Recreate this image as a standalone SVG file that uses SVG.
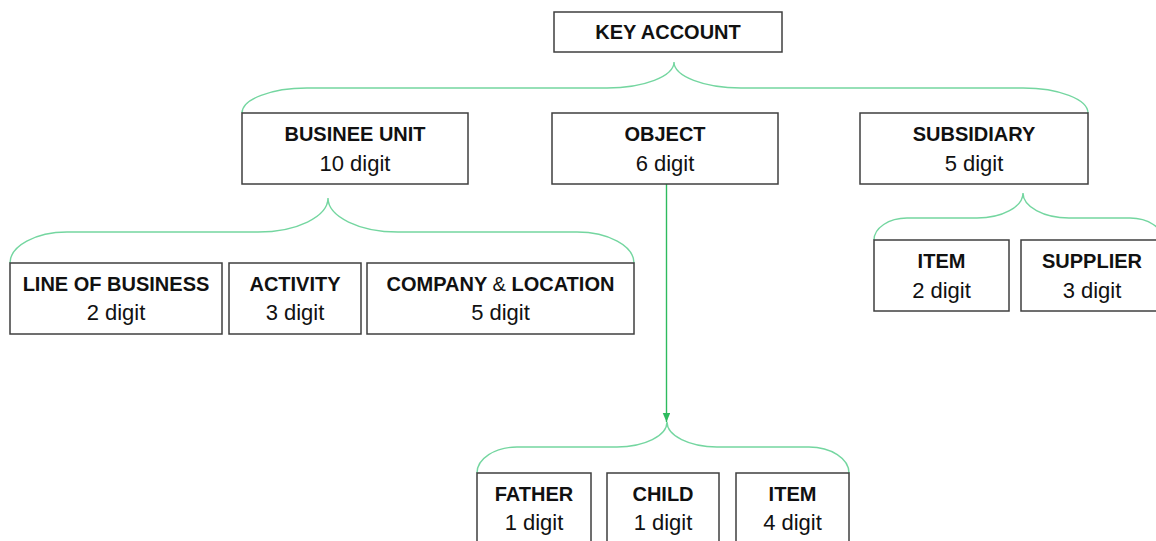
<svg xmlns="http://www.w3.org/2000/svg" width="1156" height="541" viewBox="0 0 1156 541">
  <style>
    .box { fill: #ffffff; stroke: #3f3f3f; stroke-width: 1.5; }
    .title { font-family: "Liberation Sans", Arial, sans-serif; font-weight: bold; font-size: 20px; fill: #111111; text-anchor: middle; }
    .digit { font-family: "Liberation Sans", Arial, sans-serif; font-size: 22px; fill: #111111; text-anchor: middle; }
    .brace { fill: none; stroke: #74d6a0; stroke-width: 1.4; }
    .arrow { fill: none; stroke: #2dbb5e; stroke-width: 1.4; }
  </style>
  <defs>
    <marker id="arrowhead" markerUnits="userSpaceOnUse" markerWidth="9" markerHeight="8" refX="9" refY="3.75" orient="auto">
      <path d="M0,0 L9,3.75 L0,7.5 z" fill="#2dbb5e"/>
    </marker>
  </defs>

  <!-- connectors: curly braces grouping children, plus the object arrow -->
  <g id="connectors">
    <path class="brace" d="M242,113 C242,99.25 271.25,88 307,88 L607,88 C643.85,88 674,76.3 674,62 C674,76.3 704.15,88 741,88 L1023,88 C1058.75,88 1088,99.25 1088,113"/>
    <path class="brace" d="M10,263 C10,245.95 35.65,232 67,232 L258,232 C296.5,232 328,216.7 328,198 C328,216.7 359.5,232 398,232 L577,232 C608.35,232 634,245.95 634,263"/>
    <path class="brace" d="M874,240 C874,227.9 888.85,218 907,218 L977,218 C1002.3,218 1023,206.75 1023,193 C1023,206.75 1043.7,218 1069,218 L1130,218 C1148.15,218 1163,227.9 1163,240"/>
    <path class="brace" d="M477,473 C477,458.7 494.9,447 517,447 L617,447 C644.5,447 667,435.75 667,422 C667,435.75 689.5,447 717,447 L809,447 C831.1,447 849,458.7 849,473"/>
    <line class="arrow" x1="666.5" y1="184" x2="666.5" y2="422" marker-end="url(#arrowhead)"/>
  </g>

  <g id="key-account">
    <rect class="box" x="554" y="12" width="228" height="40"/>
    <text class="title" x="668" y="39">KEY ACCOUNT</text>
  </g>

  <g id="business-unit">
    <rect class="box" x="242" y="113" width="226" height="71"/>
    <text class="title" x="355" y="141">BUSINEE UNIT</text>
    <text class="digit" x="355" y="171">10 digit</text>
  </g>

  <g id="object">
    <rect class="box" x="552" y="113" width="226" height="71"/>
    <text class="title" x="665" y="141">OBJECT</text>
    <text class="digit" x="665" y="171">6 digit</text>
  </g>

  <g id="subsidiary">
    <rect class="box" x="860" y="113" width="228" height="71"/>
    <text class="title" x="974" y="141">SUBSIDIARY</text>
    <text class="digit" x="974" y="171">5 digit</text>
  </g>

  <g id="line-of-business">
    <rect class="box" x="10" y="263" width="212" height="71"/>
    <text class="title" x="116" y="291">LINE OF BUSINESS</text>
    <text class="digit" x="116" y="320">2 digit</text>
  </g>

  <g id="activity">
    <rect class="box" x="229" y="263" width="132" height="71"/>
    <text class="title" x="295" y="291">ACTIVITY</text>
    <text class="digit" x="295" y="320">3 digit</text>
  </g>

  <g id="company-location">
    <rect class="box" x="367" y="263" width="267" height="71"/>
    <text class="title" x="500.5" y="291">COMPANY <tspan font-weight="normal">&amp;</tspan> LOCATION</text>
    <text class="digit" x="500.5" y="320">5 digit</text>
  </g>

  <g id="subsidiary-item">
    <rect class="box" x="874" y="240" width="135" height="71"/>
    <text class="title" x="941.5" y="268">ITEM</text>
    <text class="digit" x="941.5" y="298">2 digit</text>
  </g>

  <g id="supplier">
    <rect class="box" x="1021" y="240" width="142" height="71"/>
    <text class="title" x="1092" y="268">SUPPLIER</text>
    <text class="digit" x="1092" y="298">3 digit</text>
  </g>

  <g id="father">
    <rect class="box" x="477" y="473" width="114" height="71"/>
    <text class="title" x="534" y="501">FATHER</text>
    <text class="digit" x="534" y="530">1 digit</text>
  </g>

  <g id="child">
    <rect class="box" x="607" y="473" width="112" height="71"/>
    <text class="title" x="663" y="501">CHILD</text>
    <text class="digit" x="663" y="530">1 digit</text>
  </g>

  <g id="object-item">
    <rect class="box" x="736" y="473" width="113" height="71"/>
    <text class="title" x="792.5" y="501">ITEM</text>
    <text class="digit" x="792.5" y="530">4 digit</text>
  </g>
</svg>
